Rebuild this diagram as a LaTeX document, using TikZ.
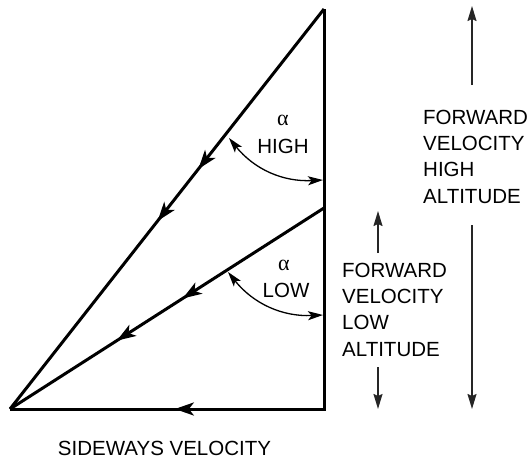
\documentclass[tikz,border=0pt]{standalone}
\usepackage{fontspec}
\setmainfont{Liberation Sans}
\newfontfamily\grkfont{Liberation Serif}
\usetikzlibrary{arrows.meta,decorations.markings}
\tikzset{
  bighead/.tip={Stealth[length=19pt,width=13pt,inset=5pt]},
  archead/.tip={Stealth[length=15pt,width=9pt,inset=3.5pt]},
  fwdhead/.tip={Stealth[length=15pt,width=9pt,inset=2pt]},
  vec/.style={line width=3pt, line join=miter},
  anglearc/.style={line width=1.3pt, archead-archead},
  fwd/.style={line width=1.5pt, draw=black!85, -fwdhead},
  lbl/.style={font=\fontsize{20.5}{26.4}\selectfont, inner sep=0pt},
  alph/.style={font=\grkfont\fontsize{22}{24}\selectfont, inner sep=0pt}
}
\begin{document}
\begin{tikzpicture}[x=1pt,y=-1pt]
\useasboundingbox (0,0) rectangle (530,458);
% vertices
\coordinate (T) at (324,9);
\coordinate (B) at (324,409);
\coordinate (O) at (10,409);
\coordinate (L) at (324,208);
% triangle
\draw[vec] (T) -- (B) -- (O);
\draw[vec, postaction={decorate}, decoration={markings,
  mark=at position 0.475 with {\arrow{bighead}}}] (B) -- (O);
\draw[vec, postaction={decorate}, decoration={markings,
  mark=at position 0.40 with {\arrow{bighead}},
  mark=at position 0.53 with {\arrow{bighead}}}] (T) -- (O);
\draw[vec, postaction={decorate}, decoration={markings,
  mark=at position 0.45 with {\arrow{bighead}},
  mark=at position 0.66 with {\arrow{bighead}}}] (L) -- (O);
% angle arcs
\coordinate (a1) at (229,138);
\coordinate (a2) at (323,180);
\coordinate (a3) at (228,272);
\coordinate (a4) at (323,315);
\draw[anglearc] (a1) to[bend right=27] (a2);
\draw[anglearc] (a3) to[bend right=27] (a4);
% angle labels
\node[alph, anchor=base] (alH) at (283,125) {α};
\node[lbl, anchor=base] (hi) at (283,153) {HIGH};
\node[alph, anchor=base] (alL) at (284,270) {α};
\node[lbl, anchor=base] (lo) at (286,297) {LOW};
% forward velocity labels
\node[lbl, anchor=north west, align=left] (fH) at (423,109.5) {FORWARD\\VELOCITY\\HIGH\\ALTITUDE};
\node[lbl, anchor=north west, align=left] (fL) at (342,262.5) {FORWARD\\VELOCITY\\LOW\\ALTITUDE};
\coordinate (h1) at (472,85);  \coordinate (h2) at (472,6);
\coordinate (h3) at (472,225); \coordinate (h4) at (472,409);
\coordinate (l1) at (378,253); \coordinate (l2) at (378,211);
\coordinate (l3) at (378,367); \coordinate (l4) at (378,409);
\draw[fwd] (h1) -- (h2);
\draw[fwd] (h3) -- (h4);
\draw[fwd] (l1) -- (l2);
\draw[fwd] (l3) -- (l4);
% sideways label
\node[lbl, anchor=base] (sw) at (164.5,455) {SIDEWAYS VELOCITY};
\end{tikzpicture}
\end{document}
